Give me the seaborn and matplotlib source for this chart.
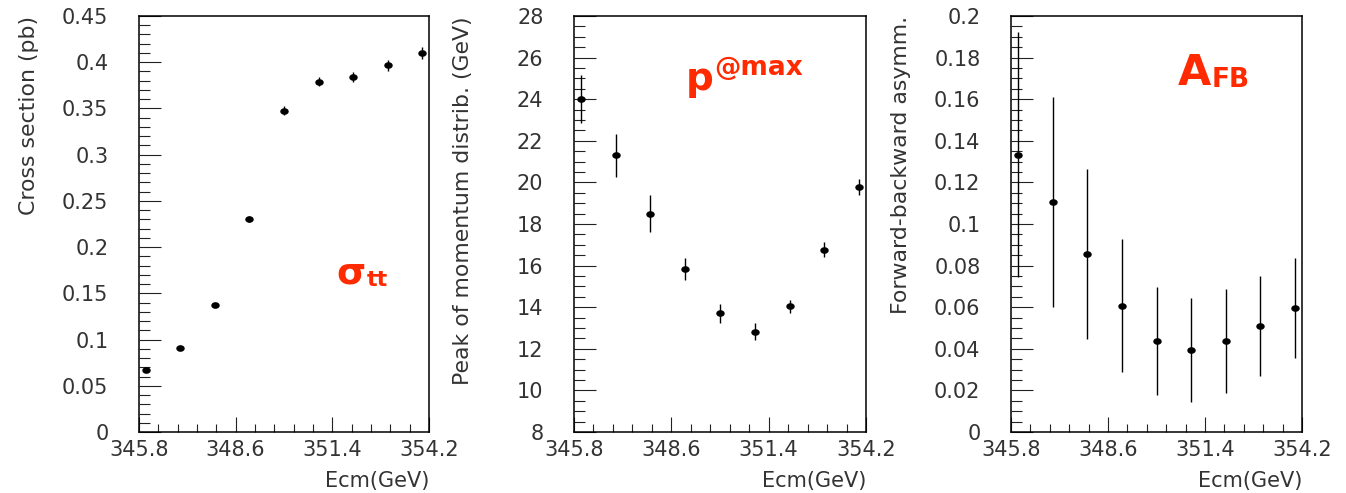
import numpy as np
import matplotlib
matplotlib.use("Agg")
import matplotlib.pyplot as plt
import matplotlib.ticker as mticker
from matplotlib.path import Path
from matplotlib.transforms import Affine2D
import pandas as pd
import seaborn as sns

# ---- threshold scan data -------------------------------------------------
ecm = [346.0, 347.0, 348.0, 349.0, 350.0, 351.0, 352.0, 353.0, 354.0]

xsec = [0.0668, 0.0909, 0.1379, 0.2302, 0.3475, 0.3789, 0.3840, 0.3966, 0.4100]
xsec_err = [0.002, 0.002, 0.002, 0.003, 0.005, 0.005, 0.005, 0.006, 0.006]

p_peak = [24.0, 21.3, 18.5, 15.83, 13.7, 12.83, 14.05, 16.77, 19.77]
p_peak_err = [1.15, 1.05, 0.9, 0.54, 0.46, 0.43, 0.32, 0.36, 0.37]

afb = [0.1333, 0.1105, 0.0856, 0.0608, 0.0436, 0.0396, 0.0438, 0.0510, 0.0597]
afb_err = [0.059, 0.0505, 0.041, 0.032, 0.026, 0.025, 0.025, 0.024, 0.024]

x_ticks = [345.8, 348.6, 351.4, 354.2]
x_label = "Ecm(GeV)"

y_labels = ["Cross section (pb)", "Peak of momentum distrib. (GeV)",
            "Forward-backward asymm."]

RED = "#ff2a00"

sns.set_style("ticks")
plt.rcParams["font.family"] = ["DejaVu Sans"]

W, H = 1346, 493
fig = plt.figure(figsize=(W / 100, H / 100), dpi=100)


def panel(left, right, top=16, bottom=432):
    return fig.add_axes([left / W, (H - bottom) / H,
                         (right - left) / W, (bottom - top) / H])


# slightly flattened dot, like the classic filled marker
dot = Path.unit_circle().transformed(Affine2D().scale(1.27, 1.0))

panels = [
    dict(box=(139, 429), y=xsec, err=xsec_err, ylim=(0, 0.45),
         major=0.05, minor=0.01, label=y_labels[0]),
    dict(box=(574, 866), y=p_peak, err=p_peak_err, ylim=(8, 28),
         major=2, minor=0.5, label=y_labels[1]),
    dict(box=(1011, 1302), y=afb, err=afb_err, ylim=(0, 0.2),
         major=0.02, minor=0.005, label=y_labels[2]),
]

axes = []
for cfg in panels:
    ax = panel(*cfg["box"])
    df = pd.DataFrame({"ecm": ecm, "val": cfg["y"], "err": cfg["err"]})
    ax.errorbar(df["ecm"], df["val"], yerr=df["err"], fmt="none",
                ecolor="black", elinewidth=1.0, capsize=0, zorder=2)
    sns.scatterplot(data=df, x="ecm", y="val", ax=ax, color="black",
                    marker=dot, s=37, linewidth=0, zorder=3, legend=False)

    ax.set_xlim(x_ticks[0], x_ticks[-1])
    ax.set_ylim(*cfg["ylim"])
    ax.xaxis.set_major_locator(mticker.FixedLocator(x_ticks))
    ax.xaxis.set_minor_locator(
        mticker.FixedLocator(np.linspace(x_ticks[0], x_ticks[-1], 16)))
    ax.xaxis.set_major_formatter(mticker.FuncFormatter(lambda v, p: f"{v:.1f}"))
    ax.yaxis.set_major_locator(mticker.MultipleLocator(cfg["major"]))
    ax.yaxis.set_minor_locator(mticker.MultipleLocator(cfg["minor"]))
    ax.yaxis.set_major_formatter(
        mticker.FuncFormatter(lambda v, p: f"{round(v, 6):g}"))

    for side in ("left", "right", "top", "bottom"):
        ax.spines[side].set_visible(True)
        ax.spines[side].set_linewidth(1.1)
        ax.spines[side].set_color("black")

    ax.tick_params(axis="y", which="major", direction="in", length=15.5,
                   width=0.8, color="#222222", pad=22, labelsize=15,
                   labelcolor="#333333", left=True, right=False)
    ax.tick_params(axis="y", which="minor", direction="in", length=8,
                   width=0.8, color="#222222", left=True, right=False)
    ax.tick_params(axis="x", which="major", direction="in", length=11,
                   width=0.8, color="#222222", pad=6, labelsize=15,
                   labelcolor="#333333", bottom=True, top=False)
    ax.tick_params(axis="x", which="minor", direction="in", length=5.5,
                   width=0.8, color="#222222", bottom=True, top=False)

    ax.set_xlabel(x_label, loc="right", fontsize=15, color="#333333")
    ax.xaxis.set_label_coords(1.0, -0.093)
    ax.set_ylabel(cfg["label"], loc="top", fontsize=15.8, color="#333333")
    ax.yaxis.set_label_coords(-0.345, 1.0)
    ax.grid(False)
    axes.append(ax)

# ---- observable tags -----------------------------------------------------
tag = dict(color=RED, fontweight="bold", ha="left", va="baseline")

ax1, ax2, ax3 = axes
ax1.text(0.680, 0.358, "σ", transform=ax1.transAxes, fontsize=27, **tag)
ax1.text(0.785, 0.351, "tt", transform=ax1.transAxes, fontsize=16, **tag)

ax2.text(0.384, 0.822, "p", transform=ax2.transAxes, fontsize=28, **tag)
ax2.text(0.480, 0.858, "@max", transform=ax2.transAxes, fontsize=19, **tag)

ax3.text(0.572, 0.834, "A", transform=ax3.transAxes, fontsize=31, **tag)
ax3.text(0.690, 0.829, "FB", transform=ax3.transAxes, fontsize=19, **tag)

fig.savefig("out.png", dpi=100, facecolor="white")
